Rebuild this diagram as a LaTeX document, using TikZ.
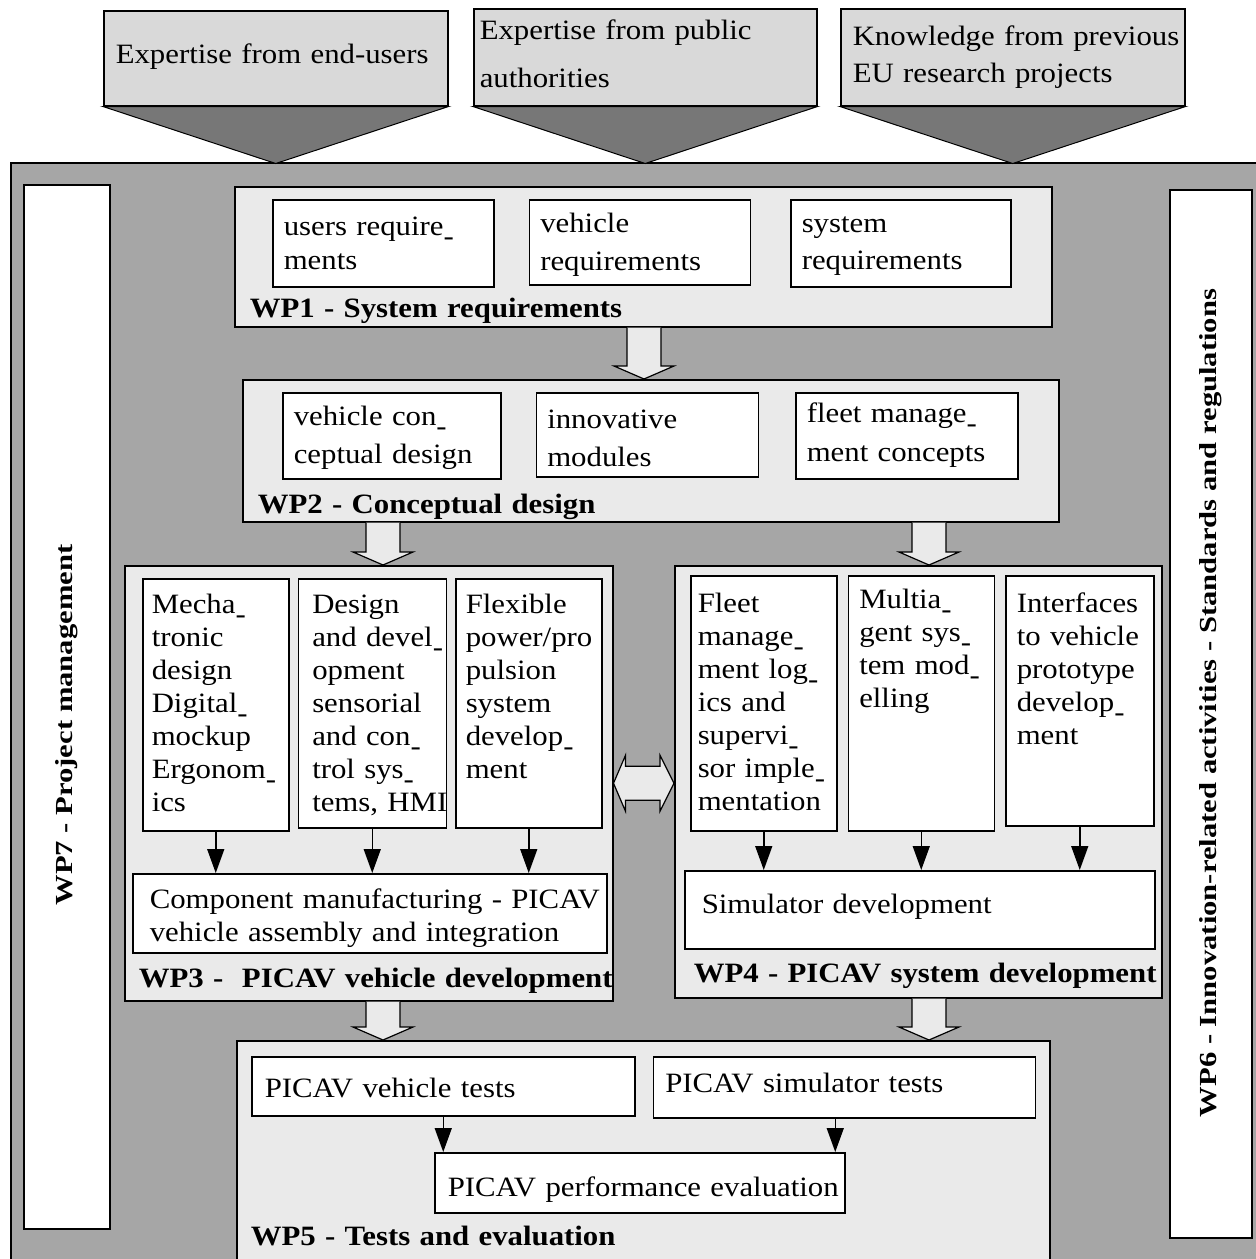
\documentclass[tikz,border=0pt]{standalone}
\usepackage{fontspec}
\setmainfont{Liberation Serif}[FakeStretch=1.1]
\newfontfamily\sidefont{Liberation Serif}[FakeStretch=1.25]
\usepackage{tikz}
\usetikzlibrary{positioning,calc,arrows.meta}

\definecolor{bggray}{HTML}{A6A6A6}
\definecolor{panelgray}{HTML}{EAEAEA}
\definecolor{srcgray}{HTML}{D9D9D9}
\definecolor{tipgray}{HTML}{777777}

\newcommand{\boxfont}{\fontsize{28}{33}\selectfont}
\newcommand{\lowdash}{\raisebox{-10pt}[0pt][0pt]{-}}
\newcommand{\bigdown}[2]{%
  \path (#1) coordinate (bt) (#2) coordinate (bh);
  \draw [bigarrow] ($(bt)+(-17,0)$) -- ($(bh)+(-17,-13)$) -- ($(bh)+(-30,-13)$) -- (bh)
    -- ($(bh)+(30,-13)$) -- ($(bh)+(17,-13)$) -- ($(bt)+(17,0)$);}

\tikzstyle{outer} = [rectangle, draw=black, fill=bggray, line width=1.5pt, anchor=north west, inner sep=0pt]
\tikzstyle{source} = [rectangle, draw=black, fill=srcgray, line width=1.5pt, anchor=north west, align=left, inner ysep=0pt, font=\boxfont]
\tikzstyle{funnel} = [draw=black, fill=tipgray, line width=1pt]
\tikzstyle{side} = [rectangle, draw=black, fill=white, line width=1.5pt, rotate=90, inner sep=0pt, font=\sidefont\bfseries\fontsize{24.5}{28}\selectfont]
\tikzstyle{panel} = [rectangle, draw=black, fill=panelgray, line width=1.5pt, anchor=north west, align=left, inner xsep=15pt, inner ysep=0pt, font=\boxfont\bfseries]
\tikzstyle{task} = [rectangle, draw=black, fill=white, line width=1.5pt, anchor=north west, align=left, inner xsep=11pt, inner ysep=0pt, font=\boxfont]
\tikzstyle{arrow} = [line width=1.5pt, -{Triangle[length=24pt,width=17pt]}]
\tikzstyle{bigarrow} = [draw=black, fill=panelgray, line width=1.2pt]

\begin{document}
\begin{tikzpicture}[x=1pt, y=-1pt]

	\useasboundingbox (0,0) rectangle (1256,1259);

	\node (frame) [outer, minimum width=1252pt, minimum height=1103pt] at (10,162) {};

	% inputs
	\node (src1) [source, inner xsep=12pt, text width=320pt, text height=53pt, text depth=42pt] at (103,10) {Expertise from end-users};
	\node (src2) [source, inner xsep=6pt, text width=331pt, text height=31pt, text depth=66pt] at (473,8) {Expertise from public\\[15pt]authorities};
	\node (src3) [source, inner xsep=12pt, text width=320pt, text height=37pt, text depth=60pt] at (840,8) {\mbox{Knowledge from previous}\\[4pt]EU research projects};

	\coordinate (tip1) at ($(src1.south)+(0,57)$);
	\coordinate (tip2) at ($(src2.south)+(0,57)$);
	\coordinate (tip3) at ($(src3.south)+(0,57)$);
	\draw [funnel] (src1.south west) -- (src1.south east) -- (tip1) -- cycle;
	\draw [funnel] (src2.south west) -- (src2.south east) -- (tip2) -- cycle;
	\draw [funnel] (src3.south west) -- (src3.south east) -- (tip3) -- cycle;

	\node (wp7) [side, minimum width=1044pt, minimum height=86pt] at (67,707) {\hspace*{-36pt}WP7 - Project management};
	\node (wp6) [side, minimum width=1048pt, minimum height=82pt] at (1211,714) {WP6 - Innovation-related activities - Standards and regulations\hspace*{-22pt}};

	% work packages
	\node (wp1) [panel, text width=787pt, text height=131pt, text depth=9pt] at (234,186) {WP1 - System requirements};
	\node (wp2) [panel, text width=786pt, text height=134pt, text depth=8pt] at (242,379) {WP2 - Conceptual design};
	\node (wp3) [panel, inner xsep=14pt, text width=460pt, text height=422pt, text depth=13pt] at (124,565) {\mbox{WP3 - \ PICAV vehicle development}};
	\node (wp4) [panel, inner xsep=19pt, text width=449pt, text height=417pt, text depth=15pt] at (674,565) {\mbox{WP4 - PICAV system development}};
	\node (wp5) [panel, inner xsep=14pt, text width=785pt, text height=205pt, text depth=55pt] at (236,1040) {WP5 - Tests and evaluation};

	\node (ureq) [task, text width=199pt, text height=36pt, text depth=51pt] at (272,199) {users require\lowdash\\[1pt]ments};
	\node (vreq) [task, right=34pt of ureq.north east, anchor=north west, text width=199pt, text height=33pt, text depth=52pt] {vehicle\\[5pt]requirements};
	\node (sreq) [task, right=39pt of vreq.north east, anchor=north west, text width=198pt, text height=33pt, text depth=54pt] {system\\[4pt]requirements};

	\node (vcd) [task, text width=196pt, text height=33pt, text depth=53pt] at (282,392) {vehicle con\lowdash\\[5pt]ceptual design};
	\node (inno) [task, right=34pt of vcd.north east, anchor=north west, text width=200pt, text height=36pt, text depth=48pt] {innovative\\[5pt]modules};
	\node (fmc) [task, right=36pt of inno.north east, anchor=north west, text width=200pt, text height=30pt, text depth=56pt] {fleet manage\lowdash\\[6pt]ment concepts};

	\node (mech) [task, inner xsep=9pt, text width=128pt, text height=35pt, text depth=217pt] at (142,578) {Mecha\lowdash\\tronic\\design\\Digital\lowdash\\mockup\\Ergonom\lowdash\\ics};
	\node (sens) [task, right=8pt of mech.north east, anchor=north west, inner xsep=14pt, text width=120pt, text height=35pt, text depth=214pt] {Design\\\mbox{and devel\lowdash}\\opment\\sensorial\\\mbox{and con\lowdash}\\\mbox{trol sys\lowdash}\\\mbox{tems, HMI}};
	\node (prop) [task, right=8pt of sens.north east, anchor=north west, inner xsep=10pt, text width=126pt, text height=35pt, text depth=214pt] {Flexible\\power/pro\\pulsion\\system\\develop\lowdash\\ment};
	\node (comp) [task, inner xsep=17pt, text width=440pt, text height=35pt, text depth=44pt] at (132,873) {\mbox{Component manufacturing - PICAV}\\vehicle assembly and integration};

	\node (fleet) [task, inner xsep=7pt, text width=132pt, text height=37pt, text depth=218pt] at (690,575) {Fleet\\manage\lowdash\\\mbox{ment log\lowdash}\\ics and\\supervi\lowdash\\\mbox{sor imple\lowdash}\\mentation};
	\node (magent) [task, right=10pt of fleet.north east, anchor=north west, text width=124pt, text height=33pt, text depth=222pt] {Multia\lowdash\\\mbox{gent sys\lowdash}\\\mbox{tem mod\lowdash}\\elling};
	\node (iface) [task, right=10pt of magent.north east, anchor=north west, text width=126pt, text height=37pt, text depth=213pt] {Interfaces\\\mbox{to vehicle}\\prototype\\develop\lowdash\\ment};
	\node (simdev) [task, inner xsep=17pt, text width=436pt, text height=43pt, text depth=35pt] at (684,870) {Simulator development};

	\node (vtest) [task, inner xsep=13pt, text width=357pt, text height=41pt, text depth=18pt] at (251,1056) {PICAV vehicle tests};
	\node (stest) [task, right=17pt of vtest.north east, anchor=north west, inner xsep=12pt, text width=358pt, text height=36pt, text depth=25pt] {PICAV simulator tests};
	\node (perf) [task, inner xsep=13pt, text width=384pt, text height=44pt, text depth=16pt] at (434,1152) {\mbox{PICAV performance evaluation}};

	% flow between work packages
	\coordinate (colM) at (644,0);
	\coordinate (colL) at (383,0);
	\coordinate (colR) at (929,0);
	\bigdown{colM |- wp1.south}{colM |- wp2.north}
	\bigdown{colL |- wp2.south}{colL |- wp3.north}
	\bigdown{colR |- wp2.south}{colR |- wp4.north}
	\bigdown{colL |- wp3.south}{colL |- wp5.north}
	\bigdown{colR |- wp4.south}{colR |- wp5.north}

	\path (wp3.east) coordinate (dl) (wp3.east -| wp4.west) coordinate (dr);
	\draw [bigarrow] (dl) -- ($(dl)+(12,-28)$) -- ($(dl)+(12,-17)$) -- ($(dr)+(-14,-17)$) -- ($(dr)+(-14,-28)$)
		-- (dr) -- ($(dr)+(-14,28)$) -- ($(dr)+(-14,17)$) -- ($(dl)+(12,17)$) -- ($(dl)+(12,28)$) -- cycle;

	% arrows inside work packages
	\draw [arrow] (mech.south) -- (mech.south |- comp.north);
	\draw [arrow] (sens.south) -- (sens.south |- comp.north);
	\draw [arrow] (prop.south) -- (prop.south |- comp.north);

	\draw [arrow] (fleet.south) -- (fleet.south |- simdev.north);
	\draw [arrow] (magent.south) -- (magent.south |- simdev.north);
	\draw [arrow] (iface.south) -- (iface.south |- simdev.north);

	\coordinate (sdrop) at ([xshift=-9pt]stest.south);
	\draw [arrow] (vtest.south) -- (vtest.south |- perf.north);
	\draw [arrow] (sdrop) -- (sdrop |- perf.north);

\end{tikzpicture}
\end{document}
